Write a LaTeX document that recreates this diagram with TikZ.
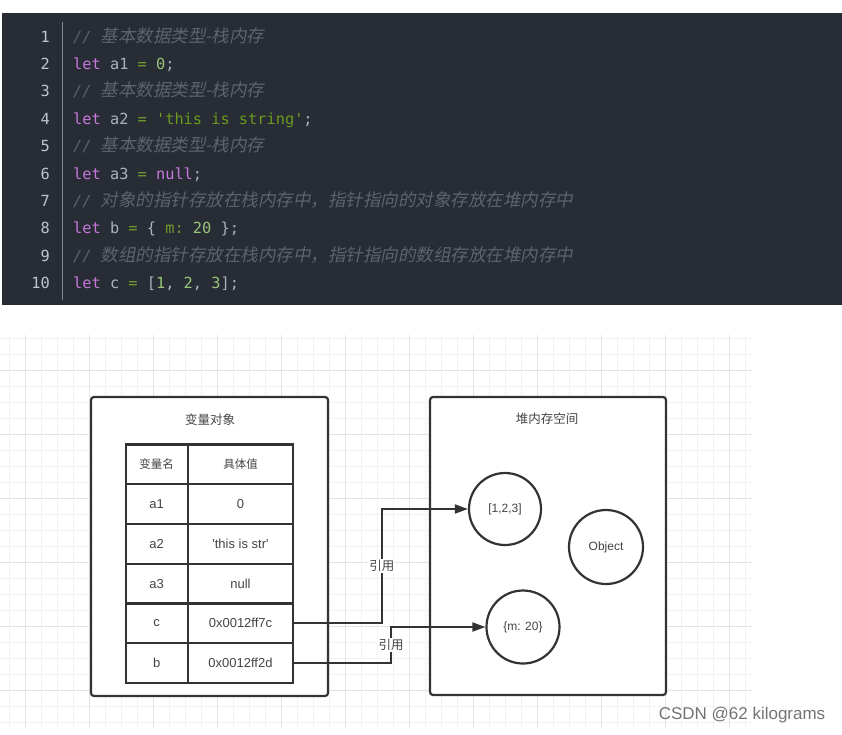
\documentclass[tikz,border=0pt]{standalone}
\usepackage{xcolor}
\usepackage{fontspec}
\setmainfont{Liberation Sans}[Ligatures=TeXOff]
\setmonofont{DejaVu Sans Mono}
\newfontfamily\cjk{Noto Sans CJK SC}
\newfontfamily\cjkit[FakeSlant=0.2]{Noto Sans CJK SC}
\usepackage{tikz}
\usetikzlibrary{arrows.meta}
\usetikzlibrary{positioning}
\usetikzlibrary{shapes,calc}

\definecolor{bgcol}{HTML}{282C34}
\definecolor{kwcol}{HTML}{C678DD}
\definecolor{idcol}{HTML}{ABB2BF}
\definecolor{opcol}{HTML}{6F9C2C}
\definecolor{numcol}{HTML}{98C379}
\definecolor{strcol}{HTML}{6A9A1F}
\definecolor{cmtcol}{HTML}{5C6370}
\definecolor{lncol}{HTML}{C0C4CC}
\definecolor{inkcol}{HTML}{333333}
\definecolor{txtcol}{HTML}{444444}

\newcommand\kwd[1]{\textcolor{kwcol}{#1}}
\newcommand\idt[1]{\textcolor{idcol}{#1}}
\newcommand\opr[1]{\textcolor{opcol}{#1}}
\newcommand\cnum[1]{\textcolor{numcol}{#1}}
\newcommand\cstr[1]{\textcolor{strcol}{#1}}
\newcommand\ccmt[1]{{\color{cmtcol}\itshape //~{\cjkit\fontsize{17.5}{20}\selectfont #1}}}

\tikzset{
  codeline/.style={anchor=base west, inner sep=0pt, font=\ttfamily\fontsize{15.3}{18}\selectfont, text=idcol},
  lineno/.style={anchor=base east, inner sep=0pt, font=\ttfamily\fontsize{15.3}{18}\selectfont, text=lncol},
  panel/.style={draw=inkcol, line width=2.2pt, rounded corners=3pt, inner sep=0pt},
  cell/.style={draw=inkcol, line width=2.2pt, inner sep=0pt, minimum height=39.7pt, text=txtcol, font=\fontsize{13}{15}\selectfont},
  namecell/.style={cell, minimum width=62pt},
  valcell/.style={cell, minimum width=105.6pt},
  heap/.style={circle, draw=inkcol, line width=2.2pt, inner sep=0pt, text=txtcol, font=\fontsize{12}{14}\selectfont},
  ref/.style={draw=inkcol, line width=1.8pt, -{Triangle[length=13pt,width=9pt]}},
  reflabel/.style={fill=white, inner sep=1pt, text=txtcol, font=\cjk\fontsize{12.5}{14}\selectfont},
  minorline/.style={draw=black!5, line width=0.6pt},
  majorline/.style={draw=black!11, line width=0.8pt}
}

\begin{document}
\begin{tikzpicture}[x=1pt,y=-1pt]
\useasboundingbox (0,0) rectangle (842,734);

% code panel
\fill[bgcol] (2,13) rectangle (842,305);
\coordinate (septop) at (62,22);
\coordinate (sepbot) at (62,300);
\draw[lncol!60!bgcol, line width=0.8pt] (septop) -- (sepbot);

\node[lineno] (n1) at (50,42) {1};
\node[lineno] (n2) at (50,69.4) {2};
\node[lineno] (n3) at (50,96.8) {3};
\node[lineno] (n4) at (50,124.2) {4};
\node[lineno] (n5) at (50,151.6) {5};
\node[lineno] (n6) at (50,179) {6};
\node[lineno] (n7) at (50,206.4) {7};
\node[lineno] (n8) at (50,233.8) {8};
\node[lineno] (n9) at (50,261.2) {9};
\node[lineno] (n10) at (50,288.6) {10};

\node[codeline] (l1) at (73,42) {\ccmt{基本数据类型-栈内存}};
\node[codeline] (l2) at (73,69.4) {\kwd{let} a1 \opr{=} \cnum{0};};
\node[codeline] (l3) at (73,96.8) {\ccmt{基本数据类型-栈内存}};
\node[codeline] (l4) at (73,124.2) {\kwd{let} a2 \opr{=} \cstr{'this is string'};};
\node[codeline] (l5) at (73,151.6) {\ccmt{基本数据类型-栈内存}};
\node[codeline] (l6) at (73,179) {\kwd{let} a3 \opr{=} \kwd{null};};
\node[codeline] (l7) at (73,206.4) {\ccmt{对象的指针存放在栈内存中，指针指向的对象存放在堆内存中}};
\node[codeline] (l8) at (73,233.8) {\kwd{let} b \opr{=} \{ \opr{m:} \cnum{20} \};};
\node[codeline] (l9) at (73,261.2) {\ccmt{数组的指针存放在栈内存中，指针指向的数组存放在堆内存中}};
\node[codeline] (l10) at (73,288.6) {\kwd{let} c \opr{=} [\cnum{1}, \cnum{2}, \cnum{3}];};

% grid paper
\foreach \gx in {9,25,...,745} \draw[minorline] (\gx,335) -- (\gx,728);
\foreach \gy in {338,354,...,728} \draw[minorline] (0,\gy) -- (752,\gy);
\foreach \gx in {25,89,...,745} \draw[majorline] (\gx,335) -- (\gx,728);
\foreach \gy in {370,434,...,728} \draw[majorline] (0,\gy) -- (752,\gy);

% stack side
\node[panel, fill=white, minimum width=237pt, minimum height=299pt] (varbox) at (209.5,546.5) {};
\node[text=txtcol, font=\cjk\fontsize{12.5}{14}\selectfont] (vartitle) at (210,420) {变量对象};

\node[namecell, font=\cjk\fontsize{11.5}{13}\selectfont] (hname) at (156.7,464.3) {变量名};
\node[valcell, font=\cjk\fontsize{11.5}{13}\selectfont] (hval) at (240.5,464.3) {具体值};
\node[namecell] (a1n) at (156.7,504.2) {a1};
\node[valcell] (a1v) at (240.5,504.2) {0};
\node[namecell] (a2n) at (156.7,544) {a2};
\node[valcell] (a2v) at (240.5,544) {'this is str'};
\node[namecell] (a3n) at (156.7,583.7) {a3};
\node[valcell] (a3v) at (240.5,583.7) {null};
\node[namecell] (cn) at (156.7,623.3) {c};
\node[valcell] (cv) at (240.5,623.3) {0x0012ff7c};
\node[namecell] (bn) at (156.7,663) {b};
\node[valcell] (bv) at (240.5,663) {0x0012ff2d};

% heap side
\node[panel, fill=white, minimum width=236pt, minimum height=298pt] (heapbox) at (548,546) {};
\node[text=txtcol, font=\cjk\fontsize{12.5}{14}\selectfont] (heaptitle) at (547,419) {堆内存空间};

\node[heap, minimum size=72pt] (arr) at (505,509) {[1,2,3]};
\node[heap, minimum size=74pt] (obj) at (606,547) {Object};
\node[heap, minimum size=73pt] (mobj) at (523,627) {\{m: 20\}};

% references
\draw[ref] (cv.east) -- ++(87.4,0) |- node[pos=0.25, reflabel] {引用} (arr.west);
\draw[ref] (bv.east) -- ++(96.7,0) |- node[pos=0.25, reflabel] {引用} (mobj.west);

\node[text=black!55, font=\fontsize{17}{19}\selectfont] (mark) at (742,715) {CSDN @62 kilograms};
\end{tikzpicture}
\end{document}
